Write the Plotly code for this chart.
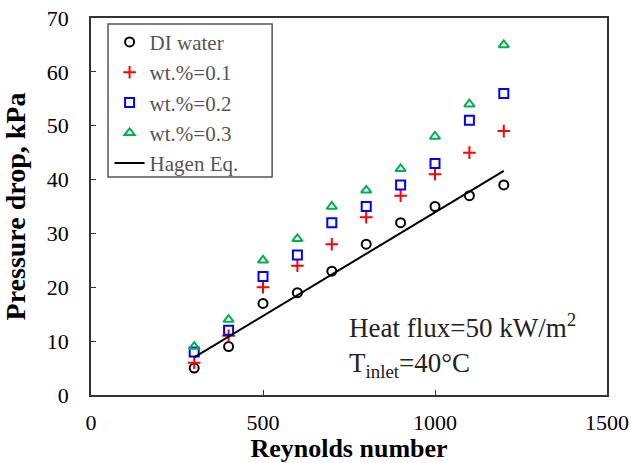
import plotly.graph_objects as go

# Reynolds numbers of the test points
reynolds = [300, 400, 500, 600, 700, 800, 900, 1000, 1100, 1200]

# Measured pressure drop (kPa)
dp_water = [5, 9, 17, 19, 23, 28, 32, 35, 37, 39]
dp_wt01 = [6, 11, 20, 24, 28, 33, 37, 41, 45, 49]
dp_wt02 = [8, 12, 22, 26, 32, 35, 39, 43, 51, 56]
dp_wt03 = [9, 14, 25, 29, 35, 38, 42, 48, 54, 65]

# Hagen equation prediction (straight line between end points)
hagen_re = [300, 1200]
hagen_dp = [7.0, 41.6]

x_ticks = [0, 500, 1000, 1500]
y_ticks = [0, 10, 20, 30, 40, 50, 60, 70]

serif = "Liberation Serif, Times New Roman, serif"

fig = go.Figure()

fig.add_trace(go.Scatter(
    x=reynolds, y=dp_water, mode="markers", name="DI water",
    marker=dict(symbol="circle-open", size=9, color="black", line=dict(width=2)),
))
fig.add_trace(go.Scatter(
    x=reynolds, y=dp_wt01, mode="markers", name="wt.%=0.1",
    marker=dict(symbol="cross-thin-open", size=9, color="red", line=dict(width=2, color="red")),
))
fig.add_trace(go.Scatter(
    x=reynolds, y=dp_wt02, mode="markers", name="wt.%=0.2",
    marker=dict(symbol="square-open", size=9, color="blue", line=dict(width=2)),
))
fig.add_trace(go.Scatter(
    x=reynolds, y=dp_wt03, mode="markers", name="wt.%=0.3",
    marker=dict(symbol="triangle-up-open", size=9, color="#00b050", line=dict(width=2)),
))
fig.add_trace(go.Scatter(
    x=hagen_re, y=hagen_dp, mode="lines", name="Hagen Eq.",
    line=dict(color="black", width=2),
))

fig.add_annotation(
    x=745, y=12.8, xref="x", yref="y", xanchor="left", yanchor="middle",
    text="Heat flux=50 kW/m<sup>2</sup>", showarrow=False,
    font=dict(family=serif, size=27, color="#222222"),
)
fig.add_annotation(
    x=745, y=5.6, xref="x", yref="y", xanchor="left", yanchor="middle",
    text="T<sub>inlet</sub>=40°C", showarrow=False,
    font=dict(family=serif, size=27, color="#222222"),
)

# Frame around the legend block
fig.add_shape(
    type="rect", xref="paper", yref="paper",
    x0=0.033, x1=0.351, y0=0.578, y1=0.984,
    line=dict(color="#555555", width=1.5), fillcolor="white", layer="above",
)

axis_common = dict(
    showgrid=False, zeroline=False, showline=True, linecolor="#333333", linewidth=1.5,
    mirror=True, ticks="inside", ticklen=5, tickcolor="#333333",
    tickfont=dict(family=serif, size=22, color="black"),
    automargin=False,
)

fig.update_layout(
    width=631, height=463,
    margin=dict(l=91, r=24, t=18, b=68),
    plot_bgcolor="white", paper_bgcolor="white",
    xaxis=dict(
        range=[0, 1500], tickvals=x_ticks, ticklabelstandoff=7, **axis_common,
        title=dict(text="<b>Reynolds number</b>",
                   font=dict(family=serif, size=26, color="black")),
    ),
    yaxis=dict(
        range=[0, 70], tickvals=y_ticks, ticklabelstandoff=16, **axis_common,
        title=dict(text="<b>Pressure drop, kPa</b>",
                   font=dict(family=serif, size=28, color="black")),
    ),
    legend=dict(
        x=0.036, y=0.99, xanchor="left", yanchor="top",
        bgcolor="rgba(0,0,0,0)", borderwidth=0,
        font=dict(family=serif, size=21, color="#555555"),
        tracegroupgap=0, itemwidth=30,
    ),
)

fig.write_html("out.html")
